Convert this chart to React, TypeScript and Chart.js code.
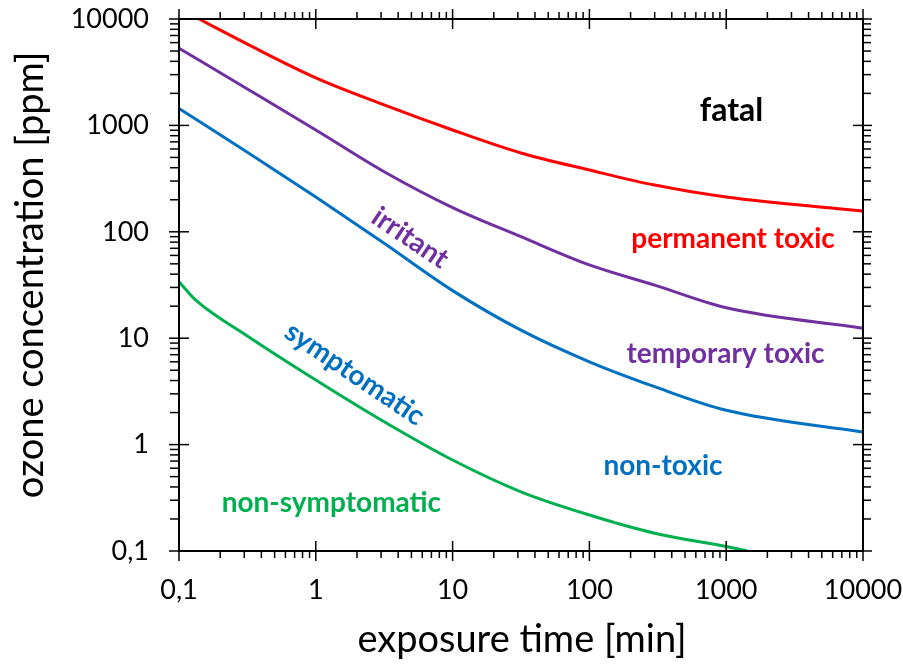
import React, { useEffect, useRef } from "react";
import { Chart, registerables } from "chart.js";

Chart.register(...registerables);

// ---- data ----
const redX = [0.14, 0.316, 1, 3.16, 10, 31.6, 100, 300, 1000, 10000];
const redY = [10000, 5800, 2800, 1560, 906, 551, 381, 275, 212, 157];

const purpleX = [0.1, 0.316, 1, 3.16, 10, 31.6, 100, 300, 1000, 10000];
const purpleY = [5310, 2200, 906, 367, 169, 90, 48.8, 31.5, 19.3, 12.4];

const blueX = [0.1, 0.316, 1, 3.16, 10, 31.6, 100, 300, 1000, 10000];
const blueY = [1440, 560, 212, 78, 28, 11.9, 6.0, 3.5, 2.1, 1.31];

const greenX = [0.1, 0.132, 0.316, 1, 3.16, 10, 31.6, 100, 300, 1000, 1430];
const greenY = [34, 22.9, 10.5, 4.05, 1.64, 0.716, 0.36, 0.218, 0.147, 0.11, 0.1];

const decades = [-1, 0, 1, 2, 3, 4];
const xTitle = "exposure time [min]";
const yTitle = "ozone concentration [ppm]";

const labelTexts = ["fatal", "permanent toxic", "temporary toxic", "irritant", "non-toxic", "symptomatic", "non-symptomatic"];
const labelColors = ["#000000", "#FF0000", "#7030A0", "#7030A0", "#0070C0", "#0070C0", "#00B050"];
const labelSizes = [32, 28, 28, 28, 28, 28, 28];
// anchor (data coords, baseline for straight labels, centre for rotated ones) and rotation in degrees
const labelAnchorX = [1094, 1122, 988, 4.89, 345, 1.92, 1.3];
const labelAnchorY = [1099, 70.5, 5.85, 87.5, 0.518, 4.61, 0.233];
const labelRotation = [0, 0, 0, 34, 0, 34, 0];

const FONT = "Lato, 'Open Sans', sans-serif";

const toPts = (xs: number[], ys: number[]) => xs.map((x, i) => ({ x, y: ys[i] }));

const fmt = (v: number) => {
  const l = Math.log10(v);
  if (Math.abs(l - Math.round(l)) > 1e-6) return "";
  return v < 1 ? String(v).replace(".", ",") : String(Math.round(v));
};

const decorPlugin = {
  id: "decor",
  afterDatasetsDraw(chart: any) {
    const { ctx, chartArea, scales } = chart;
    const { left, right, top, bottom } = chartArea;
    const xs = scales.x;
    const ys = scales.y;
    ctx.save();
    ctx.strokeStyle = "#000";
    ctx.lineWidth = 2;
    ctx.strokeRect(left, top, right - left, bottom - top);
    ctx.lineWidth = 1.5;
    const seg = (x1: number, y1: number, x2: number, y2: number) => {
      ctx.beginPath();
      ctx.moveTo(x1, y1);
      ctx.lineTo(x2, y2);
      ctx.stroke();
    };
    for (const d of decades) {
      for (let m = 1; m <= 9; m++) {
        const v = m * Math.pow(10, d);
        if (v < 0.0999 || v > 10000.1) continue;
        const major = m === 1;
        const px = xs.getPixelForValue(v);
        seg(px, bottom - (major ? 10 : 0), px, bottom + (major ? 10 : 7));
        seg(px, top + (major ? 10 : 0), px, top - (major ? 10 : 7));
        const py = ys.getPixelForValue(v);
        seg(left - (major ? 10 : 9), py, left + (major ? 10 : 0), py);
        seg(right - (major ? 10 : 0), py, right + (major ? 9 : 8), py);
      }
    }
    // region labels
    ctx.textAlign = "center";
    labelTexts.forEach((text, i) => {
      const px = xs.getPixelForValue(labelAnchorX[i]);
      const py = ys.getPixelForValue(labelAnchorY[i]);
      const rot = labelRotation[i];
      ctx.save();
      ctx.translate(px, py);
      ctx.rotate((rot * Math.PI) / 180);
      ctx.font = `bold ${labelSizes[i]}px ${FONT}`;
      ctx.textBaseline = rot ? "middle" : "alphabetic";
      ctx.fillStyle = labelColors[i];
      ctx.fillText(text, 0, 0);
      ctx.restore();
    });
    // axis titles
    ctx.fillStyle = "#000";
    ctx.font = `38px ${FONT}`;
    ctx.textAlign = "center";
    ctx.textBaseline = "middle";
    ctx.fillText(xTitle, 522, 640);
    ctx.save();
    ctx.translate(31, 275);
    ctx.rotate(-Math.PI / 2);
    ctx.fillText(yTitle, 0, 0);
    ctx.restore();
    ctx.restore();
  },
};

export default function App() {
  const ref = useRef<HTMLCanvasElement | null>(null);
  useEffect(() => {
    if (!ref.current) return;
    const tickFont = { family: FONT, size: 27 };
    const chart = new Chart(ref.current, {
      type: "line",
      data: {
        datasets: [
          { data: toPts(redX, redY), borderColor: "#FF0000" },
          { data: toPts(purpleX, purpleY), borderColor: "#7030A0" },
          { data: toPts(blueX, blueY), borderColor: "#0070C0" },
          { data: toPts(greenX, greenY), borderColor: "#00B050" },
        ].map((d) => ({
          ...d,
          borderWidth: 3,
          pointRadius: 0,
          fill: false,
          cubicInterpolationMode: "monotone" as const,
        })),
      },
      options: {
        responsive: false,
        animation: false,
        events: [],
        layout: { padding: { left: 0, right: 40, top: 19, bottom: 0 } },
        plugins: { legend: { display: false }, tooltip: { enabled: false } },
        scales: {
          x: {
            type: "logarithmic",
            min: 0.1,
            max: 10000,
            grid: { display: false, drawTicks: false },
            border: { display: false },
            ticks: {
              autoSkip: false,
              maxRotation: 0,
              padding: 23,
              color: "#000",
              font: tickFont,
              callback: (v: any) => fmt(Number(v)),
            },
            afterFit: (s: any) => {
              s.height = 113;
              s.paddingLeft = 0;
              s.paddingRight = 0;
            },
          },
          y: {
            type: "logarithmic",
            min: 0.1,
            max: 10000,
            grid: { display: false, drawTicks: false },
            border: { display: false },
            ticks: {
              autoSkip: false,
              padding: 30,
              color: "#000",
              font: tickFont,
              callback: (v: any) => fmt(Number(v)),
            },
            afterFit: (s: any) => {
              s.width = 179;
              s.paddingTop = 0;
              s.paddingBottom = 0;
            },
          },
        },
      },
      plugins: [decorPlugin],
    });
    return () => chart.destroy();
  }, []);
  return (
    <div style={{ position: "absolute", left: 0, top: 0, width: 903, height: 664, background: "#fff" }}>
      <canvas ref={ref} width={903} height={664} style={{ width: 903, height: 664 }} />
    </div>
  );
}
